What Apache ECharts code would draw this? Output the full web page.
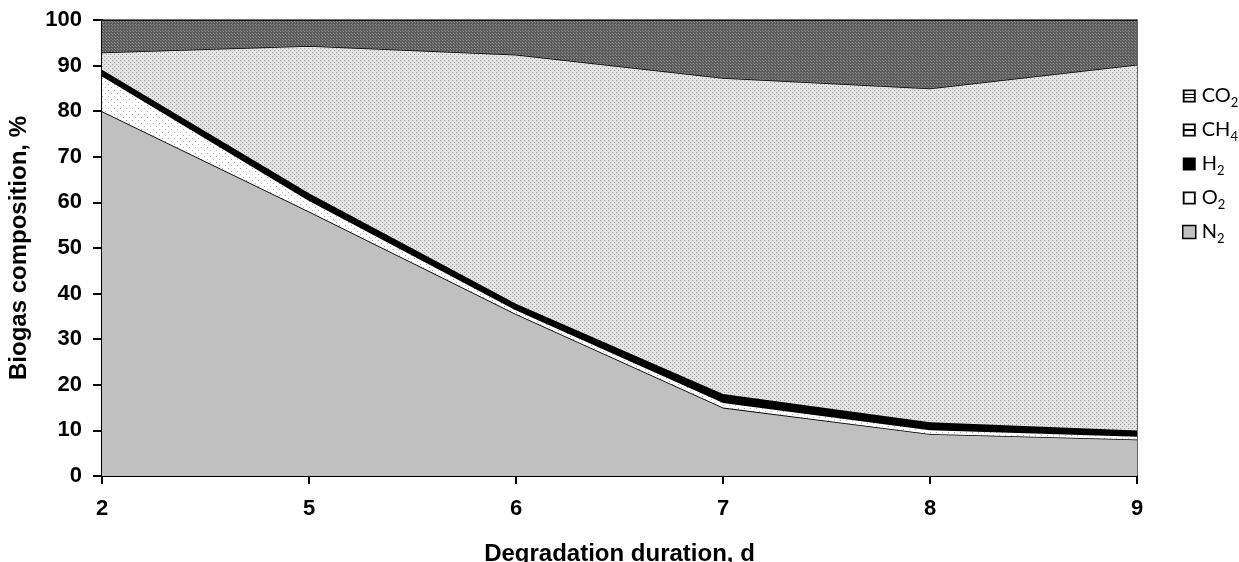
<!DOCTYPE html>
<html>
<head>
<meta charset="utf-8">
<script src="https://cdn.jsdelivr.net/npm/echarts@6/dist/echarts.min.js"></script>
<style>html,body{margin:0;padding:0;background:#fff}#c{width:1239px;height:562px}</style>
</head>
<body>
<div id="c"></div>
<script>
// Data
const categories = ['2', '5', '6', '7', '8', '9'];
const N2  = [80, 58, 35.5, 15, 9.2, 8];
const O2  = [7.8, 2.5, 1.0, 1.2, 1.0, 0.8];
const H2  = [1.3, 1.5, 1.3, 1.8, 1.6, 1.2];
const CH4 = [3.8, 32.3, 54.6, 69.3, 73.2, 80.2];
const CO2 = [7.1, 5.7, 7.6, 12.7, 15, 9.8];
const yTicks = [0, 10, 20, 30, 40, 50, 60, 70, 80, 90, 100];
const legendNames = [['CO', '2'], ['CH', '4'], ['H', '2'], ['O', '2'], ['N', '2']];

function pattern(bg, dot, step, dotSize) {
  const c = document.createElement('canvas');
  c.width = step; c.height = step;
  const g = c.getContext('2d');
  g.fillStyle = bg; g.fillRect(0, 0, step, step);
  g.fillStyle = dot;
  g.fillRect(0, 0, dotSize, dotSize);
  g.fillRect(Math.floor(step / 2), Math.floor(step / 2), dotSize, dotSize);
  return { image: c, repeat: 'repeat' };
}
const pCH4 = pattern('#e4e4e4', '#9a9a9a', 4, 1);
const pCO2 = pattern('#5c5c5c', '#8c8c8c', 3, 1);
const pO2  = pattern('#ffffff', '#b0b0b0', 6, 1);

// legend icon shapes (14x14 box)
const OUT = 'M0,0H14V2H0Z M0,12H14V14H0Z M0,0H2V14H0Z M12,0H14V14H12Z';
const icons = [
  'path://' + OUT + ' M0,4.5H14V6H0Z M0,8H14V9.5H0Z',
  'path://' + OUT + ' M0,6H14V8H0Z',
  'path://M0,0H14V14H0Z',
  'path://' + OUT,
  'path://M0,0H14V14H0Z'
];

const chart = echarts.init(document.getElementById('c'));
const font = 'Liberation Sans, Arial, sans-serif';
const lfont = 'Lato, Open Sans, sans-serif';
function mk(name, data, fill, z) {
  return {
    name: name, type: 'line', stack: 'total', data: data,
    symbol: 'none', smooth: false, z: z,
    lineStyle: { color: '#000', width: 1.6 },
    areaStyle: { color: fill, opacity: 1 },
    emphasis: { disabled: true }
  };
}
const names = legendNames.map(p => p[0] + p[1]);
const legendStyles = [
  { color: '#000' }, { color: '#000' }, { color: '#000' }, { color: '#000' },
  { color: '#c0c0c0', borderColor: '#000', borderWidth: 1.5 }
];
chart.setOption({
  animation: false,
  backgroundColor: '#fff',
  grid: { left: 102, right: 102, top: 20, bottom: 86, containLabel: false, outerBoundsMode: 'none' },
  legend: {
    orient: 'vertical', left: 1177, top: 81, itemGap: 11,
    itemWidth: 13, itemHeight: 13,
    formatter: function (n) {
      const p = legendNames[names.indexOf(n)];
      return '{m|' + p[0] + '}{s|' + p[1] + '}';
    },
    textStyle: {
      fontFamily: lfont, fontSize: 20, color: '#000', padding: [0, 0, 0, 1],
      rich: {
        m: { fontFamily: lfont, fontSize: 20, lineHeight: 26, color: '#000' },
        s: { fontFamily: lfont, fontSize: 13, lineHeight: 13, verticalAlign: 'bottom', color: '#000' }
      }
    },
    data: names.map((n, i) => ({ name: n, icon: icons[i], itemStyle: legendStyles[i] }))
  },
  xAxis: {
    type: 'category', data: categories, boundaryGap: false,
    name: 'Degradation duration, d', nameLocation: 'middle', nameGap: 66,
    nameTextStyle: { fontFamily: font, fontWeight: 'bold', fontSize: 24, color: '#000' },
    axisLine: { lineStyle: { color: '#000', width: 2 } },
    axisTick: { show: true, length: 8, lineStyle: { color: '#000', width: 2 }, alignWithLabel: true },
    axisLabel: { fontFamily: font, fontWeight: 'bold', fontSize: 22, color: '#000', margin: 22 },
    splitLine: { show: false }
  },
  yAxis: [{
    type: 'value', min: 0, max: 100, interval: 10,
    name: 'Biogas composition, %', nameLocation: 'middle', nameGap: 71, nameRotate: 90,
    nameTextStyle: { fontFamily: font, fontWeight: 'bold', fontSize: 24, color: '#000' },
    axisLine: { show: true, lineStyle: { color: '#000', width: 2 } },
    axisTick: { show: true, length: 9, lineStyle: { color: '#000', width: 2 } },
    axisLabel: { fontFamily: font, fontWeight: 'bold', fontSize: 22, color: '#000', margin: 20,
      formatter: function (v) { return yTicks.indexOf(v) >= 0 ? String(v) : ''; } },
    splitLine: { show: false }
  }, {
    type: 'value', min: 0, max: 100, interval: 10, position: 'right',
    axisLine: { show: true, lineStyle: { color: '#333', width: 1.5 } },
    axisTick: { show: false }, axisLabel: { show: false }, splitLine: { show: false }
  }],
  series: [
    mk(names[4], N2, '#c0c0c0', 2),
    mk(names[3], O2, pO2, 3),
    mk(names[2], H2, '#000000', 4),
    mk(names[1], CH4, pCH4, 5),
    mk(names[0], CO2, pCO2, 6)
  ]
});
</script>
</body>
</html>
